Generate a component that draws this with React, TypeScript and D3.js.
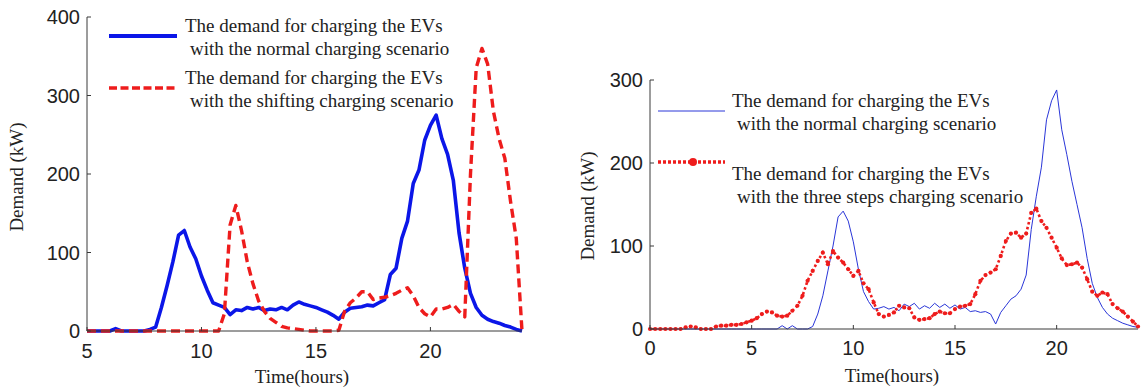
import React from "react";
import * as d3 from "d3";

// time grids (hours), one value every 15 minutes
const leftHours = d3.range(5, 24.001, 0.25);
const rightHours = d3.range(0, 24.001, 0.25);

// left panel: normal vs shifting (kW)
const leftNormal = [
  0, 0, 0, 0, 0, 3, 0, 0, 0, 0, 0, 2,
  5, 30, 58, 88, 122, 128, 107, 92, 70, 52, 36, 33,
  30, 21, 27, 26, 30, 28, 30, 26, 28, 27, 30, 27,
  33, 37, 34, 32, 30, 27, 24, 20, 15, 24, 29, 30,
  31, 33, 32, 36, 40, 72, 80, 118, 140, 188, 205, 243,
  262, 275, 245, 225, 192, 125, 80, 48, 30, 20, 15, 12,
  10, 7, 5, 2, 0,
];
const leftShifting = [
  0, 0, 0, 0, 0, 0, 0, 0, 0, 0, 0, 0,
  0, 0, 0, 0, 0, 0, 0, 0, 0, 0, 0, 0,
  22, 135, 160, 128, 88, 60, 38, 25, 16, 11, 6, 4,
  3, 2, 1, 0, 0, 0, 0, 0, 1, 25, 36, 42,
  50, 50, 40, 42, 43, 45, 48, 52, 55, 45, 30, 22,
  18, 28, 28, 30, 34, 25, 18, 200, 335, 360, 340, 280,
  245, 220, 165, 118, 0,
];

// right panel: normal vs three steps (kW)
const rightNormal = [
  0, 0, 0, 0, 0, 0, 0, 0, 0, 0, 0, 0,
  0, 0, 0, 0, 0, 0, 0, 0, 0, 0, 0, 0,
  0, 0, 4, 0, 4, 0, 0, 0, 3, 18, 40, 70,
  100, 135, 142, 130, 105, 72, 45, 33, 24, 25, 27, 24,
  26, 22, 30, 27, 31, 24, 28, 25, 31, 26, 30, 25,
  29, 24, 26, 21, 22, 20, 21, 18, 6, 20, 28, 36,
  40, 48, 65, 120, 160, 195, 252, 275, 288, 240, 210, 178,
  150, 122, 85, 55, 38, 26, 18, 13, 10, 7, 5, 3,
  2,
];
const rightThreeSteps = [
  0, 0, 0, 0, 0, 0, 0, 2, 3, 2, 0, 0,
  0, 3, 4, 4, 5, 5, 6, 8, 10, 13, 18, 21,
  20, 16, 15, 16, 22, 28, 40, 58, 70, 82, 92, 78,
  94, 86, 80, 72, 64, 70, 55, 48, 32, 18, 15, 17,
  20, 28, 26, 25, 14, 11, 12, 13, 18, 21, 19, 19,
  24, 27, 28, 30, 42, 58, 65, 68, 72, 88, 106, 115,
  116, 110, 115, 140, 145, 130, 122, 110, 98, 85, 77, 78,
  80, 74, 60, 45, 40, 44, 42, 30, 25, 21, 15, 9,
  3,
];

const leftXTicks = [5, 10, 15, 20];
const leftYTicks = [0, 100, 200, 300, 400];
const rightXTicks = [0, 5, 10, 15, 20];
const rightYTicks = [0, 100, 200, 300];

const legendTop = "The demand for charging the EVs";
const legendNormal = "with the normal charging scenario";
const legendShifting = "with the shifting charging scenario";
const legendThree = "with the three steps charging scenario";

const BLUE = "#0b16e8";
const RED = "#ee1c1c";
const AXIS = "#3a3a3a";
const SANS = "'Liberation Sans', Arial, sans-serif";
const SERIF = "'Liberation Serif', 'Times New Roman', serif";

function Axes({ x, y, xTicks, yTicks, labelDy, titleX, titleY, timeX }) {
  const [x0, x1] = x.range();
  const [y0, y1] = y.range();
  return (
    <g>
      <line x1={x0} x2={x0} y1={y1} y2={y0} stroke={AXIS} strokeWidth={1} />
      <line x1={x0} x2={x1} y1={y0} y2={y0} stroke={AXIS} strokeWidth={1} />
      {yTicks.map((t) => (
        <g key={"y" + t}>
          <line x1={x0} x2={x0 + 4} y1={y(t)} y2={y(t)} stroke={AXIS} />
          <text x={x0 - 7} y={y(t)} dy="0.36em" textAnchor="end"
            fontFamily={SANS} fontSize={20} fill="#222">{t}</text>
        </g>
      ))}
      {xTicks.map((t) => (
        <g key={"x" + t}>
          <line x1={x(t)} x2={x(t)} y1={y0} y2={y0 - 4} stroke={AXIS} />
          <text x={x(t)} y={y0 + labelDy} textAnchor="middle"
            fontFamily={SANS} fontSize={20} fill="#222">{t}</text>
        </g>
      ))}
      <text transform={`translate(${titleX},${titleY}) rotate(-90)`} dy="0.35em"
        textAnchor="middle" fontFamily={SERIF} fontSize={19} fill="#222">Demand (kW)</text>
      <text x={timeX[0]} y={timeX[1]} textAnchor="middle"
        fontFamily={SERIF} fontSize={19} fill="#222">Time(hours)</text>
    </g>
  );
}

function LegendText({ x, y, second }) {
  return (
    <g fontFamily={SERIF} fontSize={19} fill="#222">
      <text x={x} y={y}>{legendTop}</text>
      <text x={x + 5} y={y + 23}>{second}</text>
    </g>
  );
}

export default function App() {
  // left panel
  const xL = d3.scaleLinear().domain([5, 24]).range([87, 522]);
  const yL = d3.scaleLinear().domain([0, 400]).range([331, 17]);
  const lineL = d3.line().x((d) => xL(d[0])).y((d) => yL(d[1]));
  const normalL = leftHours.map((h, i) => [h, leftNormal[i]]);
  const shiftL = leftHours.map((h, i) => [h, leftShifting[i]]);

  // right panel
  const xR = d3.scaleLinear().domain([0, 24]).range([650, 1138]);
  const yR = d3.scaleLinear().domain([0, 300]).range([329, 80]);
  const lineR = d3.line().x((d) => xR(d[0])).y((d) => yR(d[1]));
  const normalR = rightHours.map((h, i) => [h, rightNormal[i]]);
  const threeR = rightHours.map((h, i) => [h, rightThreeSteps[i]]);

  return (
    <svg width={1144} height={388} style={{ position: "absolute", left: 0, top: 0, background: "#fff" }}>
      {/* left chart */}
      <path d={lineL(normalL)} fill="none" stroke={BLUE} strokeWidth={3.6} strokeLinejoin="round" />
      <path d={lineL(shiftL)} fill="none" stroke={RED} strokeWidth={3.4} strokeDasharray="9,5" strokeLinejoin="round" />
      <Axes x={xL} y={yL} xTicks={leftXTicks} yTicks={leftYTicks} labelDy={27}
        titleX={16} titleY={177} timeX={[302, 383]} />
      <line x1={109} x2={177} y1={36} y2={36} stroke={BLUE} strokeWidth={4} />
      <line x1={109} x2={177} y1={88} y2={88} stroke={RED} strokeWidth={3.6} strokeDasharray="8,3.5" />
      <LegendText x={185} y={32} second={legendNormal} />
      <LegendText x={185} y={84} second={legendShifting} />

      {/* right chart */}
      <path d={lineR(normalR)} fill="none" stroke="#2a36d8" strokeWidth={1} />
      <path d={lineR(threeR)} fill="none" stroke={RED} strokeWidth={2.6} strokeDasharray="2.5,2.5" />
      {threeR.map((d, i) => (
        <circle key={i} cx={xR(d[0])} cy={yR(d[1])} r={2.1} fill={RED} />
      ))}
      <Axes x={xR} y={yR} xTicks={rightXTicks} yTicks={rightYTicks} labelDy={26}
        titleX={587} titleY={206} timeX={[892, 382]} />
      <line x1={658} x2={725} y1={111} y2={111} stroke="#2a36d8" strokeWidth={1} />
      <line x1={658} x2={725} y1={162} y2={162} stroke={RED} strokeWidth={3.5} strokeDasharray="3,2" />
      <circle cx={693} cy={162} r={4} fill={RED} />
      <LegendText x={732} y={107} second={legendNormal} />
      <LegendText x={732} y={180} second={legendThree} />
    </svg>
  );
}
